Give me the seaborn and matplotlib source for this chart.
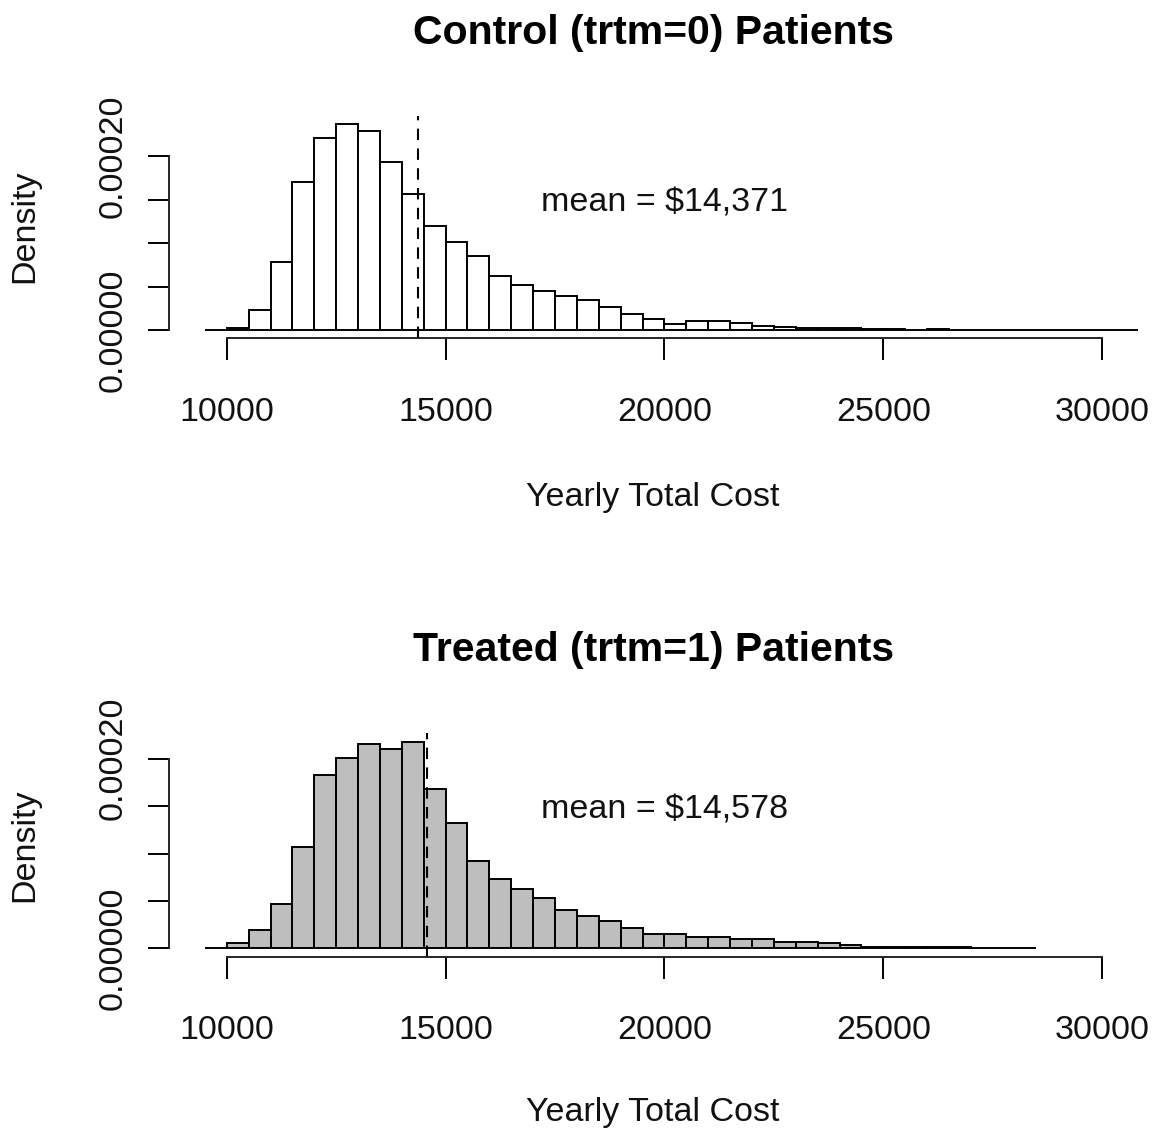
import matplotlib
matplotlib.use("Agg")
import matplotlib.pyplot as plt
import numpy as np
import pandas as pd
import seaborn as sns

# Histogram densities (bins of $500 starting at 9,500)
bin_start = 9500
bin_width = 500

ctrl_density = [
    0, 0.0000023, 0.0000229, 0.0000783, 0.0001701, 0.0002217, 0.0002372,
    0.0002295, 0.000193, 0.0001566, 0.0001198, 0.0001016, 0.0000857,
    0.0000624, 0.000052, 0.000045, 0.0000392, 0.0000341, 0.000026,
    0.0000182, 0.0000128, 0.000007, 0.0000105, 0.0000105, 0.0000081,
    0.0000047, 0.000003, 0.0000025, 0.000002, 0.000002, 0.0000015,
    0.0000015, 0, 0.0000015, 0, 0, 0, 0, 0, 0, 0, 0, 0,
]
treat_density = [
    0, 0.0000059, 0.0000193, 0.0000463, 0.000107, 0.0001824, 0.000201,
    0.0002158, 0.0002105, 0.0002179, 0.0001684, 0.0001326, 0.0000922,
    0.0000733, 0.0000624, 0.000053, 0.0000406, 0.000034, 0.0000287,
    0.0000217, 0.0000147, 0.0000147, 0.0000122, 0.0000122, 0.0000095,
    0.0000095, 0.000007, 0.000007, 0.0000053, 0.000004, 0.0000015,
    0.0000015, 0.000001, 0.000001, 0.000001, 0, 0, 0,
]
ctrl_mean = 14371
treat_mean = 14578

x_ticks = [10000, 15000, 20000, 25000, 30000]
y_ticks = [0, 0.00005, 0.0001, 0.00015, 0.0002]
y_ticklabels = ["0.00000", "", "", "", "0.00020"]
x_limits = (9500, 30000)

FIG_W, FIG_H = 1154, 1131

sns.set_theme(style="white")
plt.rcParams["font.family"] = ["Liberation Sans", "DejaVu Sans"]
plt.rcParams["axes.linewidth"] = 1.4
plt.rcParams["text.color"] = "black"
plt.rcParams["axes.labelcolor"] = "black"


def draw_panel(ax, density, mean, face, title):
    density = np.asarray(density, dtype=float)
    n = len(density)
    edges = bin_start + bin_width * np.arange(n + 1)
    df = pd.DataFrame({"cost": (edges[:-1] + edges[1:]) / 2, "density": density})
    sns.histplot(
        data=df, x="cost", weights="density", binwidth=bin_width,
        binrange=(bin_start, bin_start + n * bin_width), stat="count", ax=ax,
        color=face, edgecolor="black", linewidth=1.4, alpha=1,
    )

    # R-style 4% padding around the data range
    lo, hi = x_limits
    pad = 0.04 * (hi - lo)
    ax.set_xlim(lo - pad, hi + pad)
    ymax = density.max()
    ax.set_ylim(-0.04 * ymax, 1.04 * ymax)

    ax.axvline(mean, color="black", lw=1.5, ls=(0, (5.5, 4)))
    ax.text(20000, 0.000146, f"mean = ${mean:,}", ha="center", va="center",
            fontsize=24.5, color="#111111")

    # Axes drawn like R's axis(): only between first and last tick
    sns.despine(ax=ax)
    ax.spines["bottom"].set_bounds(x_ticks[0], x_ticks[-1])
    ax.spines["left"].set_bounds(y_ticks[0], y_ticks[-1])
    ax.set_xticks(x_ticks)
    ax.set_xticklabels([str(t) for t in x_ticks])
    ax.set_yticks(y_ticks)
    ax.set_yticklabels(y_ticklabels, rotation=90, va="center")
    ax.tick_params(axis="x", direction="out", length=16, width=1.4, pad=26,
                   labelsize=24.5, colors="black", bottom=True)
    ax.tick_params(axis="y", direction="out", length=15, width=1.4, pad=14,
                   labelsize=24.5, colors="black", left=True)
    for lab in ax.get_xticklabels() + ax.get_yticklabels():
        lab.set_color("#111111")

    ax.set_xlabel("")
    ax.set_ylabel("")
    ax.set_title(title, fontsize=29.5, fontweight="bold", pad=52, color="black")
    ax.patch.set_alpha(0)


fig = plt.figure(figsize=(FIG_W / 100, FIG_H / 100), dpi=100)
fig.patch.set_facecolor("white")

left, width = 169 / FIG_W, 969 / FIG_W
ax_top = fig.add_axes([left, 1 - 338.3 / FIG_H, width, 222.5 / FIG_H])
ax_bot = fig.add_axes([left, 1 - 956.7 / FIG_H, width, 223.3 / FIG_H])

draw_panel(ax_top, ctrl_density, ctrl_mean, "white", "Control (trtm=0) Patients")
draw_panel(ax_bot, treat_density, treat_mean, "#BEBEBE", "Treated (trtm=1) Patients")

# Axis titles placed like R's mtext lines
for ax, ylab_center, xlab_y in [(ax_top, 226, 497), (ax_bot, 845, 1113)]:
    fig.text(25 / FIG_W, 1 - ylab_center / FIG_H, "Density", rotation=90,
             ha="center", va="center", fontsize=24.5, color="#111111")
    fig.text(653 / FIG_W, 1 - xlab_y / FIG_H, "Yearly Total Cost",
             ha="center", va="center", fontsize=24.5, color="#111111")

fig.savefig("out.png", dpi=100)
